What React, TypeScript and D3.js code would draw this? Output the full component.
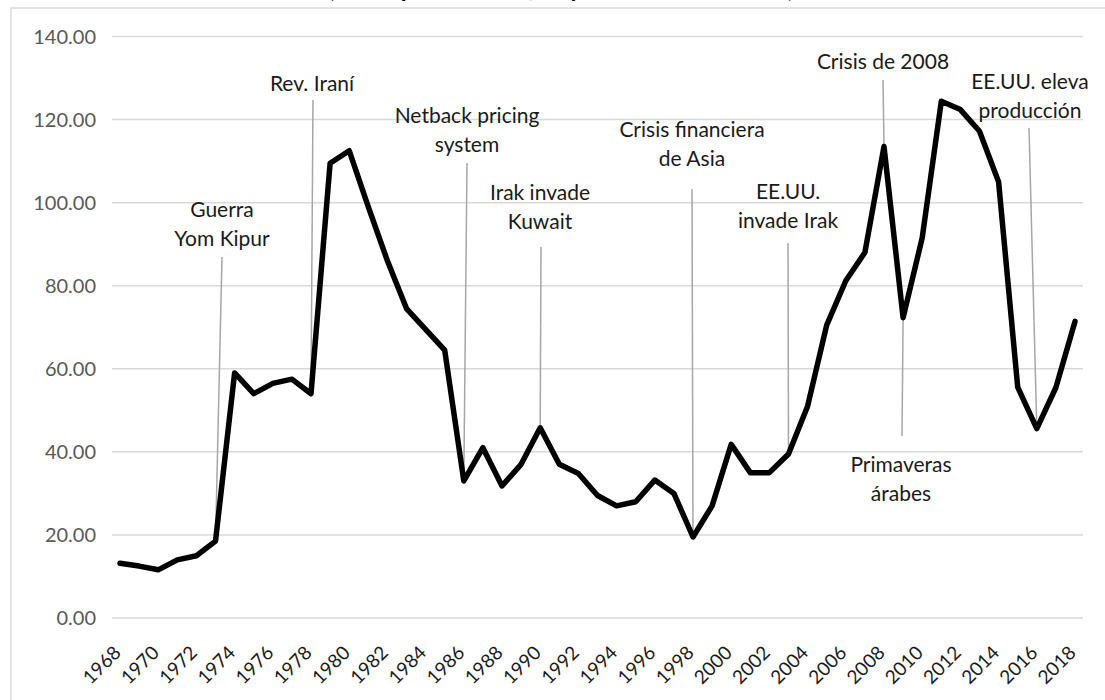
import React from "react";
import * as d3 from "d3";

const years: number[] = d3.range(1968, 2019);
const prices: number[] = [
  13.2, 12.5, 11.6, 14.0, 15.0, 18.5, 59.0, 54.0, 56.5, 57.5,
  54.0, 109.5, 112.5, 99.0, 86.0, 74.5, 69.5, 64.5, 33.0, 41.0,
  31.8, 37.0, 45.8, 37.0, 34.8, 29.5, 27.0, 28.0, 33.2, 30.0,
  19.5, 27.0, 41.8, 35.0, 35.0, 39.5, 51.0, 70.5, 81.2, 88.0,
  113.5, 72.3, 91.5, 124.4, 122.4, 117.2, 105.0, 55.6, 45.6, 55.5,
  71.4,
];
const yTicks: number[] = [0, 20, 40, 60, 80, 100, 120, 140];
const xTickYears: number[] = d3.range(1968, 2019, 2);

const eventYears: number[] = [1973, 1978, 1986, 1990, 1998, 2003, 2008, 2009, 2016];
const eventLabels: string[][] = [
  ["Guerra", "Yom Kipur"],
  ["Rev. Iraní"],
  ["Netback pricing", "system"],
  ["Irak invade", "Kuwait"],
  ["Crisis financiera", "de Asia"],
  ["EE.UU.", "invade Irak"],
  ["Crisis de 2008"],
  ["Primaveras", "árabes"],
  ["EE.UU. eleva", "producción"],
];
// layout of annotations (pixel positions of text and leader ends)
const eventLayout = [
  { tx: 222, ty: 210, lx: 222, ly: 257 },
  { tx: 312, ty: 84, lx: 313, ly: 100 },
  { tx: 467, ty: 116, lx: 467, ly: 163 },
  { tx: 540, ty: 193, lx: 541, ly: 247 },
  { tx: 692, ty: 130, lx: 692, ly: 189 },
  { tx: 788, ty: 192, lx: 788, ly: 243 },
  { tx: 883, ty: 62, lx: 883, ly: 80 },
  { tx: 901, ty: 465, lx: 902, ly: 436 },
  { tx: 1030, ty: 82, lx: 1029, ly: 128 },
];

const titleText = "(US$ por barril, a precios de 2018)";
const FONT = "Lato, 'Open Sans', sans-serif";

export default function App() {
  const W = 1105;
  const H = 700;
  const x = d3.scaleLinear().domain([1968, 2018]).range([120, 1075]);
  const y = d3.scaleLinear().domain([0, 140]).range([618, 36.5]);
  const line = d3
    .line<number>()
    .x((_, i) => x(years[i]))
    .y((d) => y(d));
  const path = line(prices) || "";

  return (
    <svg
      width={W}
      height={H}
      style={{ position: "absolute", left: 0, top: 0, background: "#fff" }}
      fontFamily={FONT}
    >
      <rect x={0} y={0} width={W} height={H} fill="#fff" />
      <text
        x={328}
        y={-3}
        fontSize={24}
        fontWeight="bold"
        fill="#000"
        textLength={466}
        lengthAdjust="spacing"
      >
        {titleText}
      </text>
      <rect x={11} y={8} width={W + 20} height={H + 20} fill="none" stroke="#d9d9d9" strokeWidth={1.5} />
      {yTicks.map((t) => (
        <g key={t}>
          <line x1={112} x2={1083} y1={y(t)} y2={y(t)} stroke="#d9d9d9" strokeWidth={1.5} />
          <text x={96} y={y(t)} dy="0.35em" textAnchor="end" fontSize={20} fill="#595959">
            {d3.format(".2f")(t)}
          </text>
        </g>
      ))}
      {xTickYears.map((yr) => (
        <text
          key={yr}
          transform={`translate(${x(yr) + 2},${654}) rotate(-45)`}
          textAnchor="end"
          fontSize={19}
          fill="#1a1a1a"
        >
          {yr}
        </text>
      ))}
      {eventYears.map((yr, i) => {
        const L = eventLayout[i];
        const v = prices[years.indexOf(yr)];
        return (
          <g key={yr}>
            <line x1={L.lx} y1={L.ly} x2={x(yr)} y2={y(v)} stroke="#a6a6a6" strokeWidth={1.5} />
            {eventLabels[i].map((s, j) => (
              <text
                key={j}
                x={L.tx}
                y={L.ty + j * 28.5}
                dy="0.35em"
                textAnchor="middle"
                fontSize={21}
                fill="#1a1a1a"
              >
                {s}
              </text>
            ))}
          </g>
        );
      })}
      <path d={path} fill="none" stroke="#000" strokeWidth={5.5} strokeLinejoin="round" strokeLinecap="round" />
    </svg>
  );
}
